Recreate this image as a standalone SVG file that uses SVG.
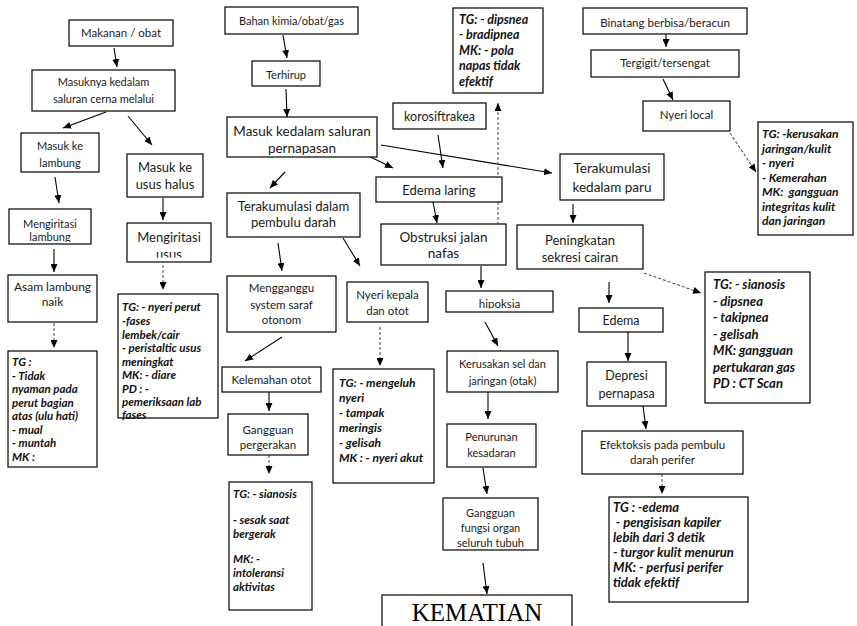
<svg xmlns="http://www.w3.org/2000/svg" width="857" height="626" viewBox="0 0 857 626">
  <style>
    .box { fill: #fff; stroke: #000; stroke-width: 1.2; }
    .t { font-family: Lato, "Liberation Sans", sans-serif; fill: #1a1a1a; text-anchor: middle; }
    .ti { font-family: Lato, "Liberation Sans", sans-serif; font-weight: bold; font-style: italic; fill: #111; }
    .ln { stroke: #000; stroke-width: 1.1; fill: none; marker-end: url(#ah); }
    .dl { stroke: #555; stroke-width: 1.1; fill: none; stroke-dasharray: 3 2; marker-end: url(#ah); }
    .s11 { font-size: 11px; }
    .s115 { font-size: 11.5px; }
    .s12 { font-size: 12px; }
    .s125 { font-size: 12.5px; }
    .s13 { font-size: 13px; }
    .s135 { font-size: 13.5px; }
    .big { font-family: "Liberation Serif", "Times New Roman", serif; font-size: 25px; fill: #000; text-anchor: middle; }
  </style>
  <defs>
    <marker id="ah" markerWidth="8" markerHeight="7" refX="8" refY="3.5" orient="auto" markerUnits="userSpaceOnUse">
      <path d="M0,0 L8,3.5 L0,7 z" fill="#000"/>
    </marker>
    <clipPath id="clipLambung"><rect x="9" y="209" width="82" height="33"/></clipPath>
    <clipPath id="clipUsus"><rect x="127" y="223" width="84" height="34.5"/></clipPath>
    <clipPath id="clipHipoksia"><rect x="446" y="291" width="107" height="17.5"/></clipPath>
  </defs>

  <!-- Connectors -->
  <g id="connectors">
    <line class="ln" x1="114" y1="48" x2="117" y2="67"/>
    <line class="ln" x1="106" y1="112" x2="63" y2="128"/>
    <line class="ln" x1="128" y1="116" x2="152" y2="145"/>
    <line class="ln" x1="55" y1="177" x2="59" y2="203"/>
    <line class="ln" x1="163" y1="198" x2="163" y2="220"/>
    <line class="ln" x1="54" y1="249" x2="54" y2="272"/>
    <line class="dl" x1="54" y1="323" x2="54" y2="348"/>
    <line class="dl" x1="163" y1="265" x2="163" y2="290"/>
    <line class="ln" x1="283" y1="35" x2="287" y2="58"/>
    <line class="ln" x1="286" y1="89" x2="287" y2="117"/>
    <line class="ln" x1="348" y1="146" x2="393" y2="168"/>
    <line class="ln" x1="381" y1="145" x2="552" y2="173"/>
    <line class="ln" x1="285" y1="172" x2="270" y2="188"/>
    <line class="ln" x1="438" y1="135" x2="443" y2="168"/>
    <line class="dl" x1="498" y1="230" x2="498" y2="103"/>
    <line class="ln" x1="433" y1="202" x2="437" y2="223"/>
    <line class="ln" x1="481" y1="266" x2="481" y2="288"/>
    <line class="ln" x1="485" y1="322" x2="498" y2="346"/>
    <line class="ln" x1="488" y1="392" x2="488" y2="419"/>
    <line class="ln" x1="483" y1="468" x2="487" y2="494"/>
    <line class="ln" x1="483" y1="563" x2="487" y2="594"/>
    <line class="ln" x1="278" y1="243" x2="282" y2="271"/>
    <line class="ln" x1="343" y1="238" x2="360" y2="266"/>
    <line class="ln" x1="282" y1="337" x2="245" y2="361"/>
    <line class="ln" x1="269" y1="392" x2="269" y2="411"/>
    <line class="dl" x1="269" y1="455" x2="269" y2="474"/>
    <line class="dl" x1="380" y1="327" x2="380" y2="366"/>
    <line class="ln" x1="573" y1="204" x2="573" y2="223"/>
    <line class="dl" x1="644" y1="273" x2="701" y2="293"/>
    <line class="ln" x1="609" y1="282" x2="609" y2="303"/>
    <line class="ln" x1="628" y1="332" x2="628" y2="361"/>
    <line class="ln" x1="643" y1="406" x2="646" y2="429"/>
    <line class="dl" x1="662" y1="474" x2="662" y2="494"/>
    <line class="ln" x1="666" y1="34" x2="666" y2="47"/>
    <line class="ln" x1="663" y1="79" x2="673" y2="100"/>
    <line class="dl" x1="730" y1="133" x2="756" y2="172"/>
  </g>

  <!-- Digestive route -->
  <g id="makanan">
    <rect class="box" x="69" y="20" width="104" height="26"/>
    <text class="t s115" x="121" y="37">Makanan / obat</text>
  </g>
  <g id="masuknya">
    <rect class="box" x="32" y="70" width="143" height="41"/>
    <text class="t s11" x="103.5" y="86">Masuknya kedalam</text>
    <text class="t s11" x="103.5" y="103">saluran cerna melalui</text>
  </g>
  <g id="lambung">
    <rect class="box" x="21" y="133" width="78" height="39"/>
    <text class="t s11" x="60" y="150">Masuk ke</text>
    <text class="t s11" x="60" y="167">lambung</text>
  </g>
  <g id="usus-halus">
    <rect class="box" x="127" y="154" width="76" height="43"/>
    <text class="t s13" x="165" y="172">Masuk ke</text>
    <text class="t s13" x="165" y="189">usus halus</text>
  </g>
  <g id="iritasi-lambung">
    <rect class="box" x="9" y="209" width="82" height="35"/>
    <g clip-path="url(#clipLambung)">
      <text class="t s11" x="50" y="228">Mengiritasi</text>
      <text class="t s11" x="50" y="241">lambung</text>
    </g>
  </g>
  <g id="iritasi-usus">
    <rect class="box" x="127" y="223" width="84" height="39"/>
    <g clip-path="url(#clipUsus)">
      <text class="t s13" x="169" y="242">Mengiritasi</text>
      <text class="t s13" x="169" y="259">usus</text>
    </g>
  </g>
  <g id="asam-lambung">
    <rect class="box" x="8" y="275" width="89" height="47"/>
    <text class="t s12" x="52.5" y="291">Asam lambung</text>
    <text class="t s12" x="52.5" y="306">naik</text>
  </g>
  <g id="tg-lambung">
    <rect class="box" x="8" y="351" width="89" height="116"/>
    <text class="ti s115" x="12" y="366">TG :</text>
    <text class="ti s115" x="12" y="379.5">- Tidak</text>
    <text class="ti s115" x="12" y="393">nyaman pada</text>
    <text class="ti s115" x="12" y="406.5">perut bagian</text>
    <text class="ti s115" x="12" y="420">atas (ulu hati)</text>
    <text class="ti s115" x="12" y="433.5">- mual</text>
    <text class="ti s115" x="12" y="447">- muntah</text>
    <text class="ti s115" x="12" y="460.5">MK :</text>
  </g>
  <g id="tg-usus">
    <rect class="box" x="118" y="294" width="100" height="124"/>
    <text class="ti s115" x="122" y="311">TG: - nyeri perut</text>
    <text class="ti s115" x="122" y="325">-fases</text>
    <text class="ti s115" x="122" y="338.5">lembek/cair</text>
    <text class="ti s115" x="122" y="352">- peristaltic usus</text>
    <text class="ti s115" x="122" y="365.5">meningkat</text>
    <text class="ti s115" x="122" y="379">MK: - diare</text>
    <text class="ti s115" x="122" y="392.5">PD : -</text>
    <text class="ti s115" x="122" y="406">pemeriksaan lab</text>
    <text class="ti s115" x="122" y="419">fases</text>
  </g>

  <!-- Inhalation route -->
  <g id="bahan-kimia">
    <rect class="box" x="225" y="7" width="133" height="27"/>
    <text class="t s11" x="291.5" y="25">Bahan kimia/obat/gas</text>
  </g>
  <g id="terhirup">
    <rect class="box" x="252" y="61" width="68" height="25"/>
    <text class="t s11" x="286" y="79">Terhirup</text>
  </g>
  <g id="saluran-pernapasan">
    <rect class="box" x="227" y="117" width="150" height="40"/>
    <text class="t s135" x="302" y="135.5">Masuk kedalam saluran</text>
    <text class="t s135" x="302" y="152.5">pernapasan</text>
  </g>
  <g id="pembulu-darah">
    <rect class="box" x="227" y="193" width="133" height="44"/>
    <text class="t s13" x="293.5" y="210.5">Terakumulasi dalam</text>
    <text class="t s13" x="293.5" y="226.5">pembulu darah</text>
  </g>
  <g id="saraf-otonom">
    <rect class="box" x="227" y="276" width="109" height="56"/>
    <text class="t s115" x="281.5" y="292">Mengganggu</text>
    <text class="t s115" x="281.5" y="309">system saraf</text>
    <text class="t s115" x="281.5" y="324">otonom</text>
  </g>
  <g id="nyeri-kepala">
    <rect class="box" x="347" y="282" width="81" height="40"/>
    <text class="t s115" x="387.5" y="299">Nyeri kepala</text>
    <text class="t s115" x="387.5" y="315">dan otot</text>
  </g>
  <g id="kelemahan">
    <rect class="box" x="222" y="367" width="99" height="25"/>
    <text class="t s115" x="271.5" y="384">Kelemahan otot</text>
  </g>
  <g id="gangguan-gerak">
    <rect class="box" x="228" y="414" width="80" height="41"/>
    <text class="t s115" x="268" y="434">Gangguan</text>
    <text class="t s115" x="268" y="449">pergerakan</text>
  </g>
  <g id="tg-gerak">
    <rect class="box" x="229" y="482" width="83" height="128"/>
    <text class="ti s115" x="233" y="498">TG: - sianosis</text>
    <text class="ti s115" x="233" y="524">- sesak saat</text>
    <text class="ti s115" x="233" y="538">bergerak</text>
    <text class="ti s115" x="233" y="563">MK: -</text>
    <text class="ti s115" x="233" y="577">intoleransi</text>
    <text class="ti s115" x="233" y="591">aktivitas</text>
  </g>
  <g id="tg-nyeri">
    <rect class="box" x="333" y="369" width="101" height="114"/>
    <text class="ti s12" x="339" y="387">TG: - mengeluh</text>
    <text class="ti s12" x="339" y="401.5">nyeri</text>
    <text class="ti s12" x="339" y="417">- tampak</text>
    <text class="ti s12" x="339" y="432">meringis</text>
    <text class="ti s12" x="339" y="447">- gelisah</text>
    <text class="ti s12" x="339" y="461.5">MK : - nyeri akut</text>
  </g>
  <g id="korosif">
    <rect class="box" x="393" y="103" width="93" height="26"/>
    <text class="t s125" x="439.5" y="121">korosiftrakea</text>
  </g>
  <g id="edema-laring">
    <rect class="box" x="376" y="177" width="126" height="25"/>
    <text class="t s13" x="439" y="194.5">Edema laring</text>
  </g>
  <g id="obstruksi">
    <rect class="box" x="381" y="224" width="125" height="41"/>
    <text class="t s135" x="443.5" y="242">Obstruksi jalan</text>
    <text class="t s135" x="443.5" y="258">nafas</text>
  </g>
  <g id="tg-napas">
    <rect class="box" x="453" y="8" width="90" height="85"/>
    <text class="ti s125" x="459" y="24">TG: - dipsnea</text>
    <text class="ti s125" x="459" y="39">- bradipnea</text>
    <text class="ti s125" x="459" y="54.5">MK: - pola</text>
    <text class="ti s125" x="459" y="70">napas tidak</text>
    <text class="ti s125" x="459" y="85.5">efektif</text>
  </g>
  <g id="hipoksia">
    <rect class="box" x="446" y="291" width="107" height="21"/>
    <g clip-path="url(#clipHipoksia)">
      <text class="t s115" x="499.5" y="307.5">hipoksia</text>
    </g>
  </g>
  <g id="kerusakan-sel">
    <rect class="box" x="447" y="351" width="111" height="41"/>
    <text class="t s11" x="502.5" y="368">Kerusakan sel dan</text>
    <text class="t s11" x="502.5" y="385">jaringan (otak)</text>
  </g>
  <g id="penurunan">
    <rect class="box" x="447" y="424" width="89" height="43"/>
    <text class="t s11" x="491.5" y="441">Penurunan</text>
    <text class="t s11" x="491.5" y="457">kesadaran</text>
  </g>
  <g id="gangguan-organ">
    <rect class="box" x="443" y="498" width="95" height="52"/>
    <text class="t s11" x="490.5" y="517">Gangguan</text>
    <text class="t s11" x="490.5" y="532">fungsi organ</text>
    <text class="t s11" x="490.5" y="547">seluruh tubuh</text>
  </g>
  <g id="kematian">
    <rect class="box" x="382" y="595" width="190" height="40"/>
    <text class="big" x="477" y="621">KEMATIAN</text>
  </g>
  <g id="paru">
    <rect class="box" x="560" y="154" width="104" height="46"/>
    <text class="t s135" x="612" y="172.5">Terakumulasi</text>
    <text class="t s135" x="612" y="191.5">kedalam paru</text>
  </g>
  <g id="sekresi">
    <rect class="box" x="517" y="225" width="126" height="44"/>
    <text class="t s13" x="580" y="244.5">Peningkatan</text>
    <text class="t s13" x="580" y="261.5">sekresi cairan</text>
  </g>
  <g id="edema">
    <rect class="box" x="579" y="308" width="84" height="24"/>
    <text class="t s125" x="621" y="325">Edema</text>
  </g>
  <g id="depresi">
    <rect class="box" x="587" y="362" width="79" height="44"/>
    <text class="t s125" x="626.5" y="380">Depresi</text>
    <text class="t s125" x="626.5" y="398">pernapasa</text>
  </g>
  <g id="efektoksis">
    <rect class="box" x="582" y="431" width="161" height="43"/>
    <text class="t s115" x="662.5" y="449">Efektoksis pada pembulu</text>
    <text class="t s115" x="662.5" y="464">darah perifer</text>
  </g>
  <g id="tg-perfusi">
    <rect class="box" x="609" y="497" width="139" height="105"/>
    <text class="ti s13" x="613" y="512">TG : -edema</text>
    <text class="ti s13" x="613" y="527" xml:space="preserve"> - pengisisan kapiler</text>
    <text class="ti s13" x="613" y="542">lebih dari 3 detik</text>
    <text class="ti s13" x="613" y="557">- turgor kulit menurun</text>
    <text class="ti s13" x="613" y="572">MK: - perfusi perifer</text>
    <text class="ti s13" x="613" y="587">tidak efektif</text>
  </g>
  <g id="tg-gas">
    <rect class="box" x="705" y="272" width="105" height="131"/>
    <text class="ti s13" x="713" y="289">TG: - sianosis</text>
    <text class="ti s13" x="713" y="305.5">- dipsnea</text>
    <text class="ti s13" x="713" y="322">- takipnea</text>
    <text class="ti s13" x="713" y="338.5">- gelisah</text>
    <text class="ti s13" x="713" y="355">MK: gangguan</text>
    <text class="ti s13" x="713" y="371.5">pertukaran gas</text>
    <text class="ti s13" x="713" y="388">PD : CT Scan</text>
  </g>

  <!-- Venom route -->
  <g id="binatang">
    <rect class="box" x="583" y="8" width="164" height="26"/>
    <text class="t s115" x="665" y="27">Binatang berbisa/beracun</text>
  </g>
  <g id="tergigit">
    <rect class="box" x="591" y="50" width="148" height="27"/>
    <text class="t s115" x="665" y="67">Tergigit/tersengat</text>
  </g>
  <g id="nyeri-local">
    <rect class="box" x="643" y="101" width="87" height="30"/>
    <text class="t s115" x="686.5" y="119">Nyeri local</text>
  </g>
  <g id="tg-kulit">
    <rect class="box" x="758" y="122" width="95" height="113"/>
    <text class="ti s12" x="762" y="138">TG: -kerusakan</text>
    <text class="ti s12" x="762" y="152.5">jaringan/kulit</text>
    <text class="ti s12" x="762" y="167">- nyeri</text>
    <text class="ti s12" x="762" y="181.5">- Kemerahan</text>
    <text class="ti s12" x="762" y="196" xml:space="preserve">MK:  gangguan</text>
    <text class="ti s12" x="762" y="210.5">integritas kulit</text>
    <text class="ti s12" x="762" y="225">dan jaringan</text>
  </g>
</svg>
